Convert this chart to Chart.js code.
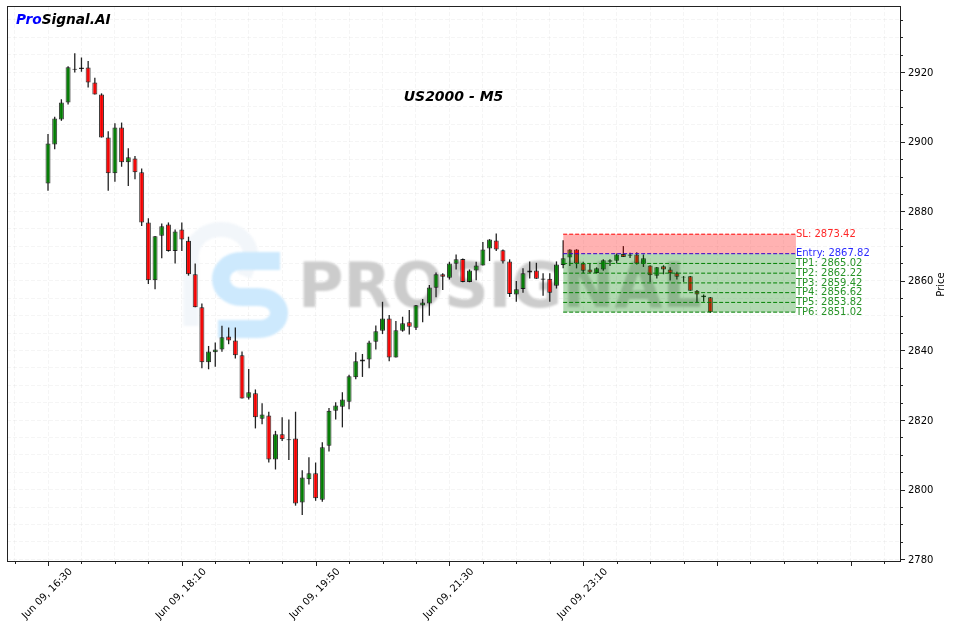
<!DOCTYPE html>
<html>
<head>
<meta charset="utf-8">
<title>US2000 - M5</title>
<style>
  html, body { margin: 0; padding: 0; background: #fff; }
  #wrap { width: 953px; height: 629px; }
</style>
<script src="https://cdn.jsdelivr.net/npm/chart.js@4/dist/chart.umd.min.js"></script>
</head>
<body>
<div id="wrap"><canvas id="chart" width="953" height="629"></canvas></div>
<script>
// 5 minute candles, one array per field
const opens = [
  2888.0, 2899.2, 2906.4, 2911.3, 2921.0, 2920.9, 2921.3, 2917.0, 2913.6, 2901.2,
  2890.9, 2904.1, 2894.1, 2895.2, 2891.2, 2876.8, 2860.2, 2873.0, 2876.2, 2868.6,
  2874.8, 2871.5, 2861.9, 2852.4, 2836.6, 2839.5, 2840.3, 2844.0, 2842.9, 2838.6,
  2826.4, 2827.7, 2820.4, 2821.3, 2808.7, 2815.9, 2814.2, 2814.7, 2796.3, 2803.0,
  2804.7, 2797.1, 2812.6, 2822.7, 2823.8, 2825.3, 2832.3, 2836.8, 2837.4, 2842.5,
  2845.7, 2849.2, 2838.0, 2845.7, 2848.1, 2846.5, 2852.9, 2853.5, 2858.0, 2861.9,
  2860.9, 2864.9, 2866.3, 2859.7, 2863.0, 2864.4, 2869.3, 2871.6, 2868.8, 2865.6,
  2856.1, 2857.7, 2862.4, 2863.0, 2860.3, 2860.6, 2858.6, 2864.6, 2866.7, 2869.0,
  2865.0, 2863.3, 2862.3, 2863.3, 2865.5, 2865.8, 2867.7, 2867.2, 2867.6, 2864.9,
  2864.4, 2861.5, 2864.2, 2863.3, 2862.2, 2861.2, 2861.3, 2857.2, 2855.8, 2855.3
];
const highs = [
  2902.2, 2907.2, 2912.2, 2921.7, 2925.4, 2924.2, 2923.2, 2918.4, 2913.9, 2903.0,
  2905.3, 2905.5, 2898.1, 2895.9, 2892.3, 2878.0, 2872.9, 2876.5, 2876.8, 2874.8,
  2876.8, 2872.7, 2865.0, 2853.5, 2841.3, 2842.3, 2847.1, 2846.6, 2846.6, 2839.7,
  2834.7, 2828.8, 2824.8, 2822.4, 2816.9, 2820.8, 2820.2, 2822.4, 2805.6, 2809.3,
  2807.8, 2813.6, 2823.5, 2825.1, 2828.0, 2833.0, 2839.5, 2839.0, 2842.8, 2847.2,
  2854.0, 2850.2, 2848.5, 2849.7, 2851.6, 2853.1, 2854.8, 2858.8, 2862.4, 2862.2,
  2865.5, 2867.6, 2866.4, 2863.3, 2865.5, 2871.2, 2872.0, 2873.6, 2869.0, 2866.2,
  2860.0, 2863.6, 2865.6, 2865.2, 2862.2, 2862.2, 2865.6, 2871.7, 2869.1, 2869.1,
  2865.5, 2865.0, 2863.9, 2866.2, 2866.2, 2867.9, 2870.0, 2868.1, 2868.2, 2867.6,
  2864.5, 2864.0, 2864.5, 2863.9, 2862.6, 2861.4, 2861.4, 2857.4, 2856.1, 2855.4
];
const lows = [
  2885.9, 2897.8, 2906.0, 2910.7, 2919.9, 2920.1, 2915.6, 2913.6, 2901.2, 2885.9,
  2888.5, 2892.8, 2887.3, 2889.2, 2875.8, 2859.1, 2857.6, 2866.5, 2868.4, 2865.0,
  2868.6, 2861.5, 2852.4, 2834.9, 2834.6, 2835.3, 2839.6, 2841.8, 2837.7, 2826.2,
  2825.9, 2817.6, 2818.8, 2807.8, 2805.8, 2814.0, 2808.5, 2795.4, 2792.7, 2801.5,
  2796.8, 2796.5, 2811.0, 2820.2, 2817.9, 2823.1, 2831.7, 2832.4, 2834.9, 2840.3,
  2844.7, 2836.9, 2838.0, 2845.4, 2844.6, 2845.9, 2848.1, 2850.0, 2855.3, 2857.4,
  2860.4, 2863.3, 2859.6, 2859.6, 2860.2, 2864.4, 2865.7, 2868.6, 2865.0, 2855.4,
  2854.0, 2856.6, 2860.7, 2860.6, 2855.7, 2854.0, 2857.8, 2863.6, 2864.3, 2863.6,
  2862.2, 2862.2, 2862.2, 2862.9, 2864.3, 2865.0, 2866.9, 2866.6, 2864.7, 2864.0,
  2859.7, 2860.7, 2861.9, 2860.1, 2860.4, 2859.7, 2857.2, 2853.8, 2854.0, 2850.8
];
const closes = [
  2899.5, 2906.7, 2911.3, 2921.4, 2920.7, 2921.3, 2917.0, 2913.6, 2901.2, 2890.9,
  2904.1, 2894.1, 2895.5, 2891.2, 2876.8, 2860.2, 2872.8, 2875.7, 2868.6, 2874.2,
  2871.9, 2861.9, 2852.4, 2836.6, 2839.7, 2840.3, 2843.8, 2842.9, 2838.6, 2826.2,
  2828.0, 2820.8, 2821.6, 2808.7, 2815.9, 2814.5, 2814.5, 2796.0, 2803.5, 2804.7,
  2797.5, 2812.2, 2822.7, 2824.2, 2825.9, 2832.6, 2836.9, 2837.4, 2842.3, 2845.5,
  2849.2, 2838.0, 2845.8, 2847.8, 2846.8, 2853.0, 2853.8, 2858.1, 2861.9, 2861.2,
  2865.0, 2866.2, 2859.7, 2863.0, 2864.4, 2869.0, 2871.9, 2869.0, 2865.6, 2856.2,
  2857.6, 2862.2, 2863.0, 2860.6, 2860.7, 2856.6, 2864.7, 2866.5, 2869.0, 2865.0,
  2862.9, 2862.4, 2863.6, 2865.9, 2865.9, 2867.6, 2866.9, 2867.6, 2865.0, 2866.5,
  2861.6, 2863.9, 2863.3, 2862.2, 2861.2, 2861.0, 2857.2, 2856.1, 2855.3, 2851.0
];

// only every 20th bar gets a time label
const timeTicks = [0, 20, 40, 60, 80];
const timeLabels = ['Jun 09, 16:30', 'Jun 09, 18:10', 'Jun 09, 19:50', 'Jun 09, 21:30', 'Jun 09, 23:10'];

const levelNames = ['SL', 'Entry', 'TP1', 'TP2', 'TP3', 'TP4', 'TP5', 'TP6'];
const levelValues = [2873.42, 2867.82, 2865.02, 2862.22, 2859.42, 2856.62, 2853.82, 2851.02];
const levelColors = ['#ff0000', '#0000ff', '#008000', '#008000', '#008000', '#008000', '#008000', '#008000'];
const levelRange = [77, 111.8];

const indexes = closes.map((c, i) => i);
const FONT = '"DejaVu Sans"';

Chart.defaults.font.family = FONT;
Chart.defaults.font.size = 10;
Chart.defaults.color = '#000';

// faint brand mark behind the candles
const watermark = {
  id: 'watermark',
  beforeDatasetsDraw(chart) {
    const ctx = chart.ctx;
    ctx.save();
    ctx.filter = 'blur(0.8px)';
    ctx.lineCap = 'butt';
    ctx.lineJoin = 'round';

    ctx.strokeStyle = '#f2f6fa';
    ctx.lineWidth = 15;
    ctx.beginPath();
    ctx.moveTo(191, 326);
    ctx.lineTo(191, 258);
    ctx.bezierCurveTo(191, 220, 251, 220, 251, 258);
    ctx.lineTo(244, 276);
    ctx.stroke();

    ctx.strokeStyle = '#cde9fd';
    ctx.lineWidth = 18;
    ctx.beginPath();
    ctx.moveTo(280, 261);
    ctx.lineTo(242, 261);
    ctx.bezierCurveTo(214, 261, 214, 297, 242, 297);
    ctx.lineTo(258, 297);
    ctx.bezierCurveTo(286, 297, 286, 329, 258, 329);
    ctx.lineTo(218, 329);
    ctx.stroke();

    ctx.fillStyle = '#cccccc';
    ctx.font = 'bold 62px ' + FONT;
    ctx.textAlign = 'left';
    ctx.textBaseline = 'alphabetic';
    ctx.fillText('PROSIGNAL', 298, 307);
    ctx.restore();
  }
};

// frame, tick marks and the texts the scales cannot place
const decorations = {
  id: 'decorations',
  afterDraw(chart) {
    const ctx = chart.ctx;
    const area = chart.chartArea;
    const xs = chart.scales.x;
    const ys = chart.scales.y;

    ctx.save();
    ctx.strokeStyle = '#222';
    ctx.lineWidth = 1;
    ctx.strokeRect(area.left + 0.5, area.top + 0.5, area.width, area.height);

    ctx.beginPath();
    xs.ticks.forEach((t) => {
      const px = Math.round(xs.getPixelForValue(t.value)) + 0.5;
      ctx.moveTo(px, area.bottom);
      ctx.lineTo(px, area.bottom + (t.value % 20 === 0 ? 5 : 3));
    });
    ys.ticks.forEach((t) => {
      const py = Math.round(ys.getPixelForValue(t.value)) + 0.5;
      ctx.moveTo(area.right, py);
      ctx.lineTo(area.right + (t.value % 20 === 0 ? 5 : 3), py);
    });
    ctx.stroke();

    // level captions to the right of the zone
    ctx.font = '10px ' + FONT;
    ctx.textAlign = 'left';
    ctx.textBaseline = 'middle';
    levelNames.forEach((name, i) => {
      ctx.fillStyle = levelColors[i];
      ctx.globalAlpha = 0.85;
      ctx.fillText(name + ': ' + levelValues[i].toFixed(2),
        xs.getPixelForValue(levelRange[1]), ys.getPixelForValue(levelValues[i]));
    });
    ctx.globalAlpha = 1;

    ctx.fillStyle = '#000';
    ctx.font = 'italic bold 14px ' + FONT;
    ctx.textAlign = 'center';
    ctx.fillText('US2000 - M5', (area.left + area.right) / 2, area.top + area.height * 0.165);

    ctx.font = 'italic bold 13.7px ' + FONT;
    ctx.textAlign = 'left';
    ctx.fillStyle = '#0000ff';
    ctx.fillText('Pro', area.left + 9, area.top + 14);
    const proWidth = ctx.measureText('Pro').width;
    ctx.fillStyle = '#000';
    ctx.fillText('Signal.AI', area.left + 9 + proWidth, area.top + 14);

    ctx.font = '10px ' + FONT;
    ctx.translate(941, (area.top + area.bottom) / 2 + 1);
    ctx.rotate(-Math.PI / 2);
    ctx.textAlign = 'center';
    ctx.fillText('Price', 0, 0);
    ctx.restore();
  }
};

const levelDatasets = levelNames.map((name, i) => ({
  type: 'line',
  label: name,
  data: levelRange.map((x) => ({ x: x, y: levelValues[i] })),
  borderColor: levelColors[i],
  borderWidth: 1,
  borderDash: [4, 2],
  pointRadius: 0,
  order: 1,
  // red band up to the stop, green band down to the last target
  fill: i === 0 ? { value: levelValues[1] } : i === 1 ? { value: levelValues[7] } : false,
  backgroundColor: i === 0 ? 'rgba(255,0,0,0.3)' : 'rgba(0,128,0,0.3)'
}));

new Chart(document.getElementById('chart'), {
  type: 'bar',
  data: {
    datasets: [
      ...levelDatasets,
      {
        label: 'body',
        data: indexes.map((i) => ({ x: i, y: [opens[i], closes[i]] })),
        backgroundColor: indexes.map((i) => closes[i] >= opens[i] ? 'rgba(0,128,0,0.92)' : 'rgba(255,0,0,0.92)'),
        borderColor: 'rgba(0,0,0,0.8)',
        borderWidth: 1,
        borderSkipped: false,
        inflateAmount: 0,
        barThickness: 5,
        grouped: false,
        order: 2
      },
      {
        label: 'wick',
        data: indexes.map((i) => ({ x: i, y: [lows[i], highs[i]] })),
        backgroundColor: '#222',
        borderWidth: 0,
        inflateAmount: 0,
        barThickness: 1.3,
        grouped: false,
        order: 3
      }
    ]
  },
  options: {
    responsive: false,
    animation: false,
    events: [],
    layout: { padding: { left: 7, top: 6, right: 0, bottom: 0 } },
    plugins: {
      legend: { display: false },
      tooltip: { enabled: false },
      filler: { drawTime: 'beforeDatasetDraw' }
    },
    scales: {
      x: {
        type: 'linear',
        offset: false,
        min: -6.13,
        max: 127.35,
        afterFit(scale) {
          scale.height = 68;
          scale.paddingLeft = 0;
          scale.paddingRight = 0;
        },
        border: { display: false, dash: [4, 2] },
        grid: { offset: false, color: 'rgba(0,0,0,0.04)', drawTicks: false },
        ticks: {
          stepSize: 5,
          includeBounds: false,
          autoSkip: false,
          maxRotation: 45,
          minRotation: 45,
          labelOffset: 23,
          padding: 5,
          callback(v) {
            const k = timeTicks.indexOf(v);
            return k >= 0 ? timeLabels[k] : '';
          }
        }
      },
      y: {
        position: 'right',
        min: 2779.5,
        max: 2939,
        afterFit(scale) {
          scale.width = 53;
          scale.paddingTop = 0;
          scale.paddingBottom = 0;
        },
        border: { display: false, dash: [4, 2] },
        grid: { color: 'rgba(0,0,0,0.04)', drawTicks: false },
        ticks: {
          stepSize: 5,
          includeBounds: false,
          autoSkip: false,
          padding: 8,
          labelOffset: 1,
          callback(v) { return v % 20 === 0 ? String(v) : ''; }
        }
      }
    }
  },
  plugins: [watermark, decorations]
});
</script>
</body>
</html>
